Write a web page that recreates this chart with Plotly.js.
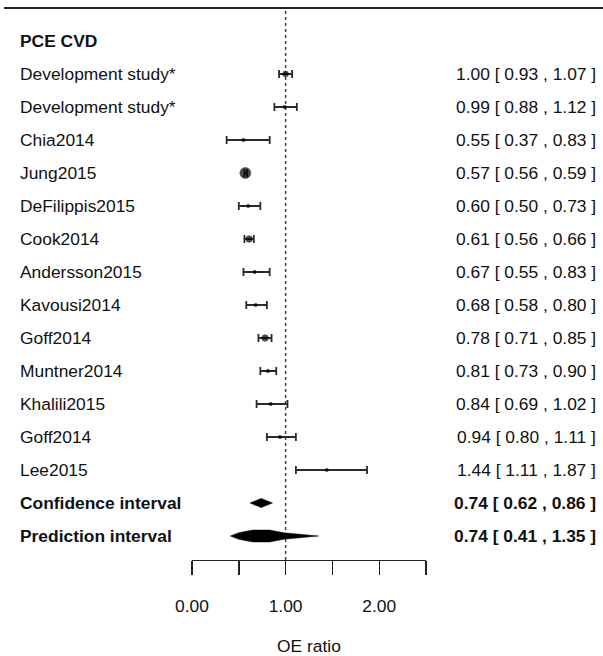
<!DOCTYPE html>
<html>
<head>
<meta charset="utf-8">
<script src="https://cdn.plot.ly/plotly-3.0.1.min.js"></script>
<style>html,body{margin:0;padding:0;background:#fff;}#chart{width:603px;height:656px;}</style>
</head>
<body>
<div id="chart"></div>
<script>
// ---- data ----
var header = "PCE CVD";
var labels = ["Development study*","Development study*","Chia2014","Jung2015","DeFilippis2015","Cook2014","Andersson2015","Kavousi2014","Goff2014","Muntner2014","Khalili2015","Goff2014","Lee2015"];
var est = [1.00,0.99,0.55,0.57,0.60,0.61,0.67,0.68,0.78,0.81,0.84,0.94,1.44];
var lo  = [0.93,0.88,0.37,0.56,0.50,0.56,0.55,0.58,0.71,0.73,0.69,0.80,1.11];
var hi  = [1.07,1.12,0.83,0.59,0.73,0.66,0.83,0.80,0.85,0.90,1.02,1.11,1.87];
var weights = [0.35,0.05,0.05,1.0,0.05,0.45,0.05,0.05,0.45,0.08,0.05,0.05,0.05];
var summaryLabels = ["Confidence interval","Prediction interval"];
var summaryEst = [0.74,0.74];
var summaryLo  = [0.62,0.41];
var summaryHi  = [0.86,1.35];
var xTickVals = [0,0.5,1,1.5,2,2.5];
var xTickText = ["0.00","","1.00","","2.00",""];
var xTitle = "OE ratio";

// ---- build ----
var W = 603, H = 656;
var FONT = "Liberation Sans, Arial, sans-serif";
var FS = 17.4;
var TXT = "#111";
var rows = labels.map(function(_, i){ return i + 1; });
var sumRows = summaryLabels.map(function(_, i){ return labels.length + 1 + i; });

function fmt(e, l, h){ return e.toFixed(2) + " [ " + l.toFixed(2) + " , " + h.toFixed(2) + " ]"; }

var traces = [];
// error bars (CI whiskers)
traces.push({
  type: "scatter", mode: "markers", x: est, y: rows,
  marker: {color: "rgba(0,0,0,0)", size: 1},
  error_x: {type: "data", symmetric: false,
    array: hi.map(function(h, i){ return h - est[i]; }),
    arrayminus: lo.map(function(l, i){ return est[i] - l; }),
    color: "#2a2a2a", thickness: 1.8, width: 4},
  hoverinfo: "skip", showlegend: false
});
// point estimates, sized by weight
traces.push({
  type: "scatter", mode: "markers", x: est, y: rows,
  marker: {symbol: "circle", color: "#000", size: weights.map(function(w){ return 3 + 8 * w; }), line: {width: 0.6, color: "#000"}},
  hoverinfo: "skip", showlegend: false
});

function poly(xs, hs, r){
  var x = xs.concat(xs.slice().reverse());
  var y = hs.map(function(h){ return r - h; }).concat(hs.slice().reverse().map(function(h){ return r + h; }));
  x.push(x[0]); y.push(y[0]);
  return {type: "scatter", mode: "lines", x: x, y: y,
    fill: "toself", fillcolor: "#000", line: {width: 0.5, color: "#000"}, hoverinfo: "skip", showlegend: false};
}
// confidence interval diamond
traces.push(poly([summaryLo[0], summaryEst[0], summaryHi[0]], [0, 0.14, 0], sumRows[0]));
// prediction interval: thin wide diamond with a thicker core
var core = (summaryHi[0] - summaryLo[0]);
var pe = summaryEst[1];
traces.push(poly([summaryLo[1], pe - core, pe - 0.09, pe + 0.09, pe + core, summaryHi[1]],
                 [0, 0.10, 0.18, 0.18, 0.10, 0], sumRows[1]));

var ann = [];
function addText(x, y, anchor, text){
  ann.push({xref: "paper", yref: "y", x: x, y: y, xanchor: anchor, yanchor: "middle", text: text, showarrow: false, font: {family: FONT, size: FS, color: TXT}});
}
addText(18 / W, 0, "left", "<b>" + header + "</b>");
labels.forEach(function(l, i){
  addText(18 / W, rows[i], "left", l);
  addText(598 / W, rows[i], "right", fmt(est[i], lo[i], hi[i]));
});
summaryLabels.forEach(function(l, i){
  addText(18 / W, sumRows[i], "left", "<b>" + l + "</b>");
  addText(598 / W, sumRows[i], "right", "<b>" + fmt(summaryEst[i], summaryLo[i], summaryHi[i]) + "</b>");
});

var axisY = 1 - 560 / H;
var topY = 1 - 8 / H;
var layout = {
  width: W, height: H,
  margin: {l: 0, r: 0, t: 0, b: 0},
  paper_bgcolor: "#fff", plot_bgcolor: "rgba(0,0,0,0)",
  xaxis: {
    domain: [192 / W, 426 / W], range: [xTickVals[0], xTickVals[xTickVals.length - 1]],
    anchor: "free", position: axisY,
    showline: true, linecolor: "#222", linewidth: 1.4,
    ticks: "outside", ticklen: 14, tickwidth: 1.4, tickcolor: "#222",
    tickmode: "array", tickvals: xTickVals, ticktext: xTickText,
    tickfont: {family: FONT, size: FS, color: TXT},
    ticklabelstandoff: 16,
    showgrid: false, zeroline: false, automargin: false,
    title: {text: xTitle, font: {family: FONT, size: FS, color: TXT}, standoff: 28}
  },
  yaxis: {domain: [0, 1], range: [(H - 41) / 33, -41 / 33], visible: false, showgrid: false, zeroline: false, automargin: false},
  shapes: [
    {type: "line", xref: "paper", yref: "paper", x0: 4 / W, x1: 1, y0: topY, y1: topY, line: {color: "#222", width: 2}},
    {type: "line", xref: "x", yref: "paper", x0: 1, x1: 1, y0: axisY, y1: topY, line: {color: "#444", width: 1.5, dash: "dot"}, layer: "below"}
  ],
  annotations: ann,
  showlegend: false
};
Plotly.newPlot("chart", traces, layout, {staticPlot: true, displayModeBar: false});
</script>
</body>
</html>
